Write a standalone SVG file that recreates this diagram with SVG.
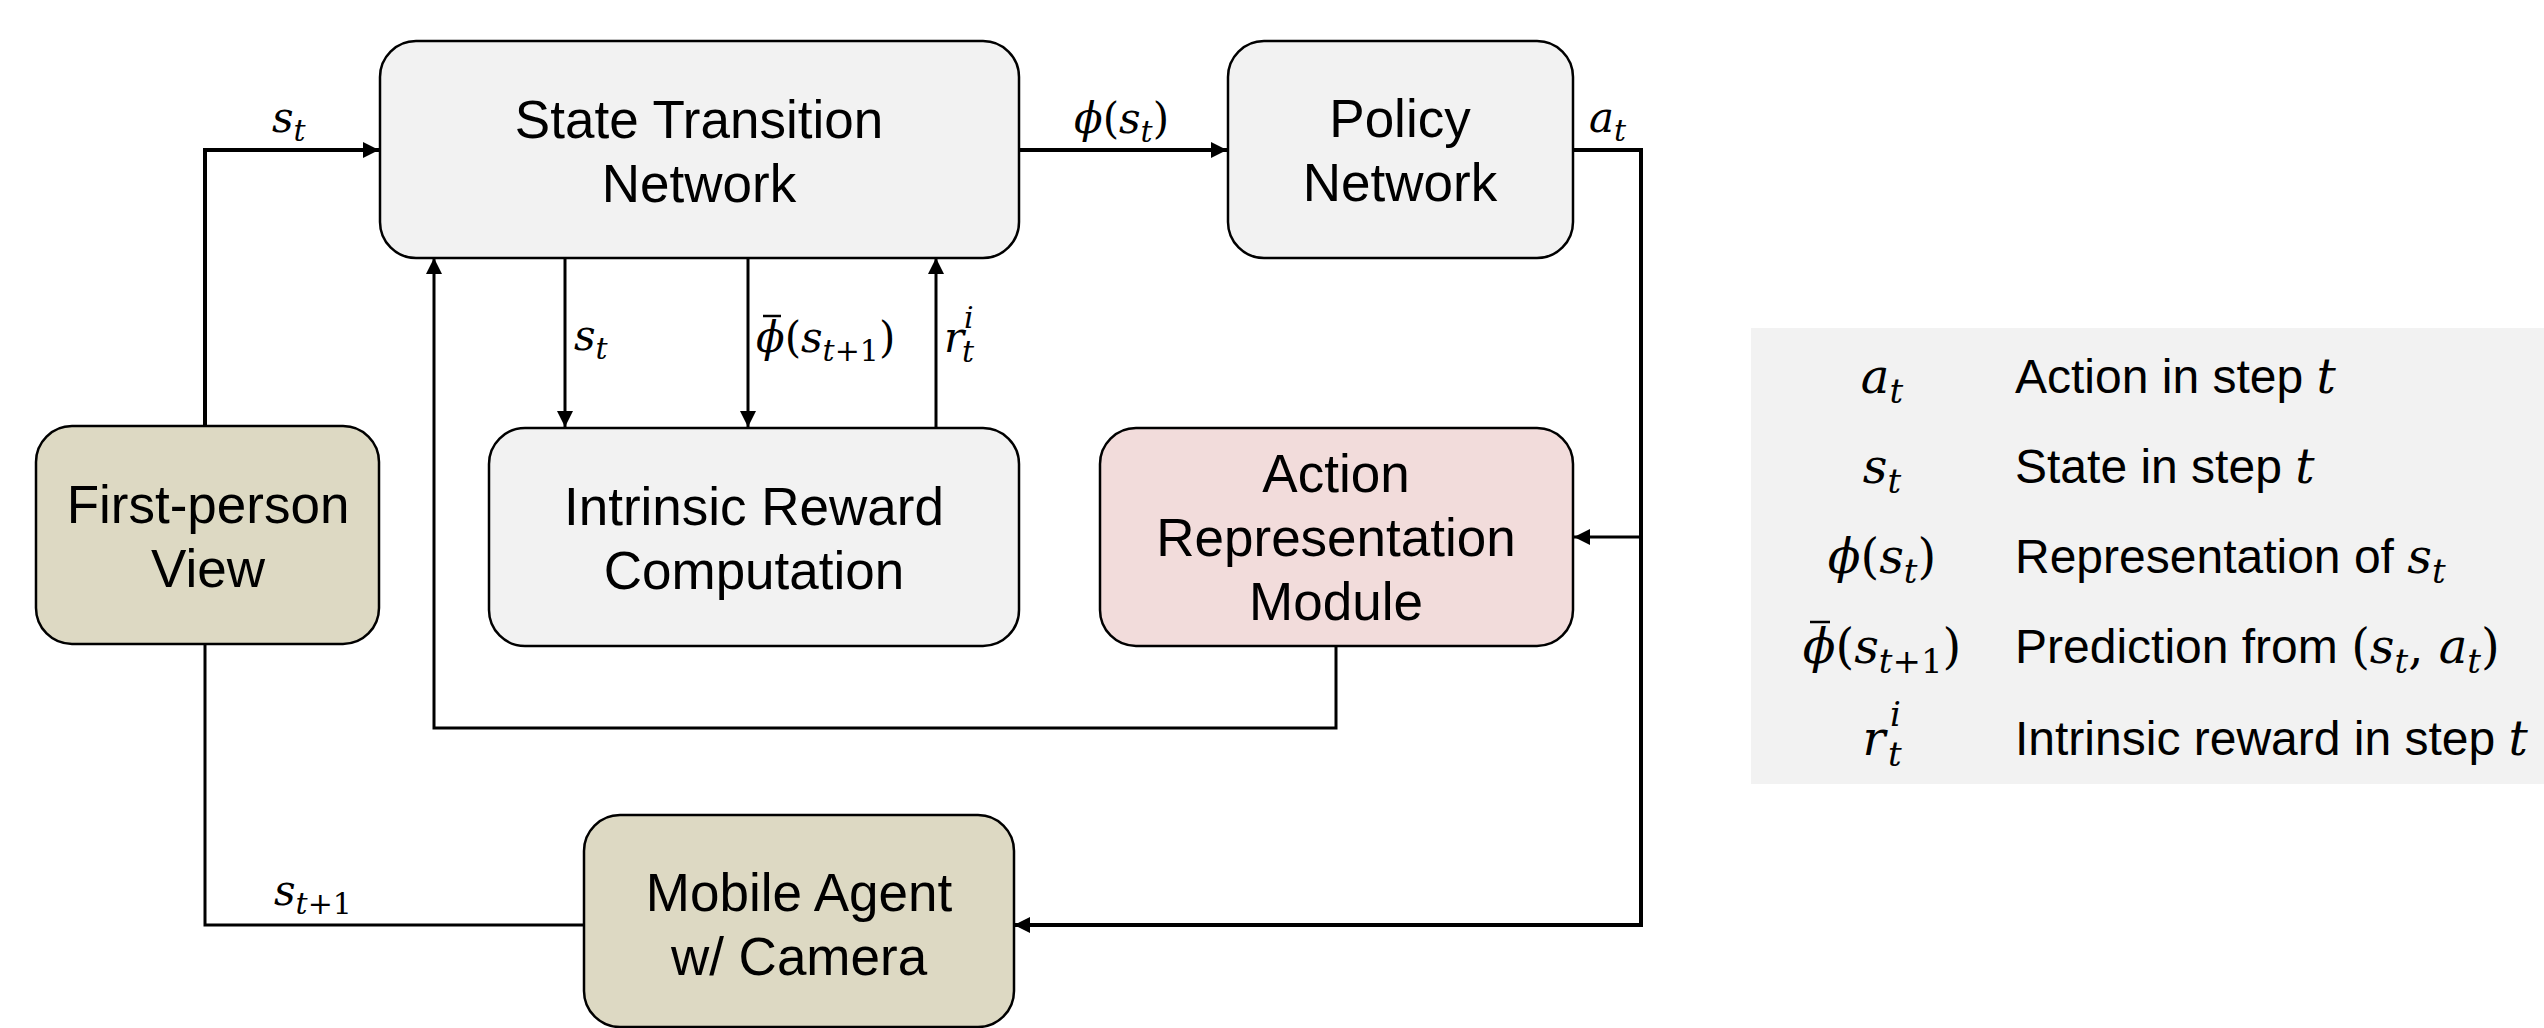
<svg xmlns="http://www.w3.org/2000/svg" width="2544" height="1028" viewBox="0 0 2544 1028">
<style>
.box{stroke:#000;stroke-width:2.5}
.gray{fill:#f2f2f2}
.tan{fill:#ddd9c3}
.pink{fill:#f2dcdb}
.lbl{font-family:"Liberation Sans",Arial,sans-serif;font-size:53px;fill:#000;text-anchor:middle}
.leg{font-family:"Liberation Sans",Arial,sans-serif;font-size:48px;fill:#000}
.m{font-family:"DejaVu Serif","Liberation Serif",serif;font-style:italic;font-size:42px;fill:#000}
.lm{font-family:"DejaVu Serif","Liberation Serif",serif;font-style:italic;font-size:48px;fill:#000;text-anchor:middle}
.up{font-style:normal}
.sub{font-size:30px}
.lsub{font-size:34px}
.con{fill:none;stroke:#000;stroke-width:3}
.thick{stroke-width:4}
.bar{stroke:#000;stroke-width:2.5}
</style>
<defs>
<marker id="ah" markerUnits="userSpaceOnUse" markerWidth="16" markerHeight="16" refX="16" refY="8" orient="auto">
<path d="M0,0 L16,8 L0,16 z" fill="#000"/>
</marker>
</defs>
<rect width="2544" height="1028" fill="#fff"/>

<g id="connectors">
<path class="con thick" d="M205,426 V150 H379" marker-end="url(#ah)"/>
<path class="con thick" d="M1019,150 H1227" marker-end="url(#ah)"/>
<path class="con thick" d="M1573,150 H1641 V925 H1014" marker-end="url(#ah)"/>
<path class="con" d="M1641,537 H1574" marker-end="url(#ah)"/>
<path class="con" d="M1336,646 V728 H434 V258" marker-end="url(#ah)"/>
<path class="con" d="M565,258 V427" marker-end="url(#ah)"/>
<path class="con" d="M748,258 V427" marker-end="url(#ah)"/>
<path class="con" d="M936,428 V258" marker-end="url(#ah)"/>
<path class="con" d="M584,925 H205 V644"/>
<text class="m" x="272" y="132">s<tspan class="sub" dy="9">t</tspan></text>
<text class="m" x="1074" y="133">ϕ<tspan class="up">(</tspan>s<tspan class="sub" dy="9">t</tspan><tspan class="up" dy="-9">)</tspan></text>
<text class="m" x="1589" y="132">a<tspan class="sub" dy="9">t</tspan></text>
<text class="m" x="574" y="350">s<tspan class="sub" dy="9">t</tspan></text>
<text class="m" x="756" y="352">ϕ<tspan class="up">(</tspan>s<tspan class="sub" dy="9">t</tspan><tspan class="sub up">+1</tspan><tspan class="up" dy="-9">)</tspan></text>
<line class="bar" x1="763" y1="316" x2="781" y2="316"/>
<text class="m" x="944" y="352">r</text>
<text class="m sub" x="962" y="362">t</text>
<text class="m sub" x="964" y="328">i</text>
<text class="m" x="274" y="905">s<tspan class="sub" dy="9">t</tspan><tspan class="sub up">+1</tspan></text>
</g>

<g id="state-transition">
<rect class="box gray" x="380" y="41" width="639" height="217" rx="36" ry="36"/>
<text class="lbl" x="699" y="138">State Transition</text>
<text class="lbl" x="699" y="202">Network</text>
</g>
<g id="policy">
<rect class="box gray" x="1228" y="41" width="345" height="217" rx="36" ry="36"/>
<text class="lbl" x="1400" y="137">Policy</text>
<text class="lbl" x="1400" y="201">Network</text>
</g>
<g id="first-person">
<rect class="box tan" x="36" y="426" width="343" height="218" rx="36" ry="36"/>
<text class="lbl" x="208" y="523">First-person</text>
<text class="lbl" x="208" y="587">View</text>
</g>
<g id="intrinsic">
<rect class="box gray" x="489" y="428" width="530" height="218" rx="36" ry="36"/>
<text class="lbl" x="754" y="525">Intrinsic Reward</text>
<text class="lbl" x="754" y="589">Computation</text>
</g>
<g id="action-rep">
<rect class="box pink" x="1100" y="428" width="473" height="218" rx="36" ry="36"/>
<text class="lbl" x="1336" y="492">Action</text>
<text class="lbl" x="1336" y="556">Representation</text>
<text class="lbl" x="1336" y="620">Module</text>
</g>
<g id="mobile-agent">
<rect class="box tan" x="584" y="815" width="430" height="212" rx="36" ry="36"/>
<text class="lbl" x="799" y="911">Mobile Agent</text>
<text class="lbl" x="799" y="975">w/ Camera</text>
</g>

<g id="legend">
<rect x="1751" y="328" width="793" height="456" fill="#f2f2f2"/>
<text class="lm" x="1882" y="393">a<tspan class="lsub" dy="10">t</tspan></text>
<text class="lm" x="1882" y="483">s<tspan class="lsub" dy="10">t</tspan></text>
<text class="lm" x="1882" y="573">ϕ<tspan class="up">(</tspan>s<tspan class="lsub" dy="10">t</tspan><tspan class="up" dy="-10">)</tspan></text>
<text class="lm" x="1882" y="663">ϕ<tspan class="up">(</tspan>s<tspan class="lsub" dy="10">t</tspan><tspan class="lsub up">+1</tspan><tspan class="up" dy="-10">)</tspan></text>
<line class="bar" x1="1810" y1="622" x2="1830" y2="622"/>
<text class="lm" x="1874" y="755">r</text>
<text class="m lsub" x="1888" y="766">t</text>
<text class="m lsub" x="1890" y="726">i</text>
<text class="leg" x="2015" y="393">Action in step <tspan font-family="DejaVu Serif,serif" font-style="italic">t</tspan></text>
<text class="leg" x="2015" y="483">State in step <tspan font-family="DejaVu Serif,serif" font-style="italic">t</tspan></text>
<text class="leg" x="2015" y="573">Representation of <tspan font-family="DejaVu Serif,serif" font-style="italic">s<tspan font-size="34" dy="10">t</tspan></tspan></text>
<text class="leg" x="2015" y="663">Prediction from <tspan font-family="DejaVu Serif,serif">(<tspan font-style="italic">s</tspan><tspan font-style="italic" font-size="34" dy="10">t</tspan><tspan dy="-10">, </tspan><tspan font-style="italic">a</tspan><tspan font-style="italic" font-size="34" dy="10">t</tspan><tspan dy="-10">)</tspan></tspan></text>
<text class="leg" x="2015" y="755">Intrinsic reward in step <tspan font-family="DejaVu Serif,serif" font-style="italic">t</tspan></text>
</g>
</svg>
